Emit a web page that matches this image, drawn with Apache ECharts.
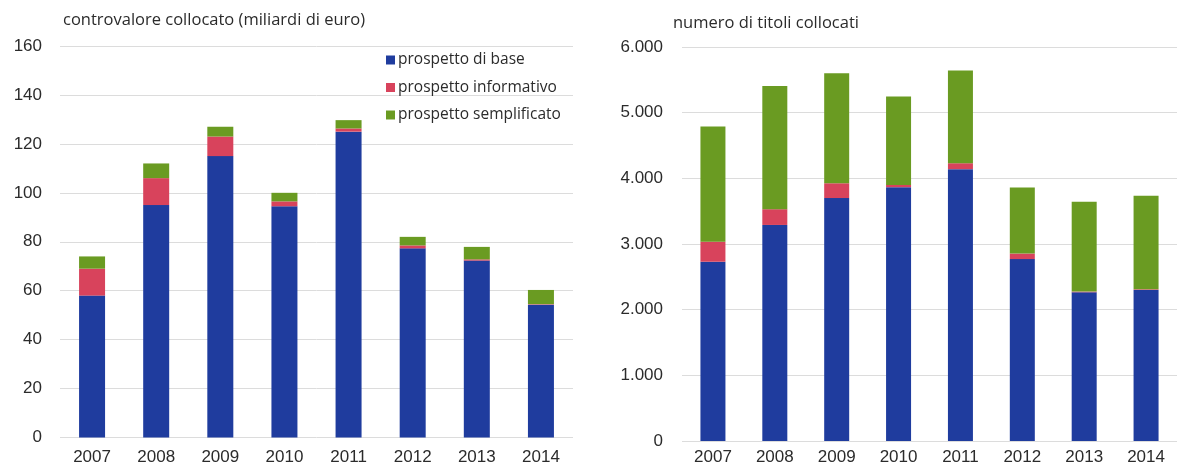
<!DOCTYPE html>
<html>
<head>
<meta charset="utf-8">
<script src="https://cdn.jsdelivr.net/npm/echarts@6/dist/echarts.min.js"></script>
<style>
  html, body { margin: 0; padding: 0; background: #fff; }
  #chart { width: 1177px; height: 468px; }
</style>
</head>
<body>
<div id="chart"></div>
<script>
// Years on both panels
const years = ['2007', '2008', '2009', '2010', '2011', '2012', '2013', '2014'];

// Left panel: amount placed (billions of euro)
const valoreBase = [58, 95, 115, 94.5, 125, 77.3, 72.3, 54.3];
const valoreInformativo = [11, 11, 8, 2, 1.3, 1.2, 0.5, 0.2];
const valoreSemplificato = [5, 6, 4, 3.5, 3.4, 3.5, 5.1, 5.8];

// Right panel: number of securities placed
const titoliBase = [2730, 3290, 3700, 3865, 4140, 2770, 2265, 2300];
const titoliInformativo = [305, 240, 225, 35, 90, 85, 10, 10];
const titoliSemplificato = [1755, 1877, 1676, 1347, 1411, 1005, 1370, 1425];

const seriesNames = ['prospetto di base', 'prospetto informativo', 'prospetto semplificato'];
const colors = ['#1f3c9e', '#d8435c', '#6a9b22'];

const textColor = '#2b2b2b';
const tickFont = 'Liberation Sans';
const labelFont = 'Open Sans';

function thousands(v) {
  return String(v).replace(/\B(?=(\d{3})+(?!\d))/g, '.');
}

const chart = echarts.init(document.getElementById('chart'), null, { renderer: 'canvas' });

const gridLine = { show: true, lineStyle: { color: '#dcdcdc', width: 1 } };

chart.setOption({
  animation: false,
  backgroundColor: '#ffffff',
  color: colors,
  title: [
    { text: 'controvalore collocato (miliardi di euro)', left: 58, top: 7,
      textStyle: { fontFamily: labelFont, fontSize: 16.5, fontWeight: 'normal', color: textColor } },
    { text: 'numero di titoli collocati', left: 668, top: 10,
      textStyle: { fontFamily: labelFont, fontSize: 16.5, fontWeight: 'normal', color: textColor } }
  ],
  legend: {
    data: seriesNames,
    orient: 'vertical',
    left: 381, top: 47,
    itemWidth: 9, itemHeight: 9, itemGap: 11.5,
    icon: 'rect',
    textStyle: { fontFamily: labelFont, fontSize: 15.5, color: textColor, padding: [0, 0, 0, -2] }
  },
  grid: [
    { left: 60, right: 604, top: 46, bottom: 30.5 },
    { left: 682, width: 505, top: 47, bottom: 27 }
  ],
  xAxis: [
    { type: 'category', gridIndex: 0, data: years,
      axisLine: { show: false }, axisTick: { show: false },
      axisLabel: { fontFamily: tickFont, fontSize: 17, color: textColor, margin: 11 } },
    { type: 'category', gridIndex: 1, data: years,
      axisLine: { show: false }, axisTick: { show: false },
      axisLabel: { fontFamily: tickFont, fontSize: 17, color: textColor, margin: 8 } }
  ],
  yAxis: [
    { type: 'value', gridIndex: 0, min: 0, max: 160, interval: 20,
      axisLine: { show: false }, axisTick: { show: false },
      splitLine: gridLine,
      axisLabel: { fontFamily: tickFont, fontSize: 17, color: textColor, margin: 18 } },
    { type: 'value', gridIndex: 1, min: 0, max: 6000, interval: 1000,
      axisLine: { show: false }, axisTick: { show: false },
      splitLine: gridLine,
      axisLabel: { fontFamily: tickFont, fontSize: 17, color: textColor, margin: 19,
                   formatter: thousands } }
  ],
  series: [
    { name: seriesNames[0], type: 'bar', stack: 'v', xAxisIndex: 0, yAxisIndex: 0, barWidth: 26, data: valoreBase },
    { name: seriesNames[1], type: 'bar', stack: 'v', xAxisIndex: 0, yAxisIndex: 0, barWidth: 26, data: valoreInformativo },
    { name: seriesNames[2], type: 'bar', stack: 'v', xAxisIndex: 0, yAxisIndex: 0, barWidth: 26, data: valoreSemplificato },
    { name: seriesNames[0], type: 'bar', stack: 't', xAxisIndex: 1, yAxisIndex: 1, barWidth: 25, data: titoliBase },
    { name: seriesNames[1], type: 'bar', stack: 't', xAxisIndex: 1, yAxisIndex: 1, barWidth: 25, data: titoliInformativo },
    { name: seriesNames[2], type: 'bar', stack: 't', xAxisIndex: 1, yAxisIndex: 1, barWidth: 25, data: titoliSemplificato }
  ]
});
</script>
</body>
</html>
